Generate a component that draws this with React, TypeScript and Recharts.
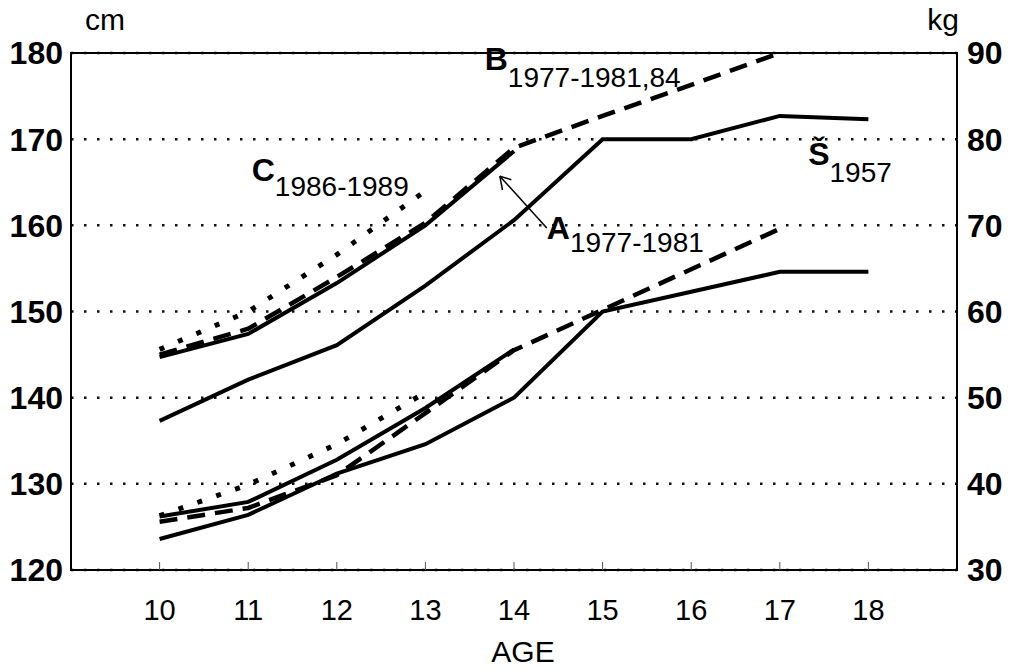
import {
  LineChart,
  Line,
  XAxis,
  YAxis,
  CartesianGrid,
  ReferenceArea,
  ReferenceLine,
  ReferenceDot,
} from "recharts";

const FONT = "'Liberation Sans', Arial, Helvetica, sans-serif";

// x axis: age in years
const ages = [10, 11, 12, 13, 14, 15, 16, 17, 18];
const ageTicks = [10, 11, 12, 13, 14, 15, 16, 17, 18];
const cmTicks = [120, 130, 140, 150, 160, 170, 180];
const kgTicks = [30, 40, 50, 60, 70, 80, 90];

// body height, cm (left axis)
const heightS1957 = [137.3, 142.1, 146.1, 153, 160.6, 170, 170, 172.7, 172.3];
const heightA = [144.7, 147.4, 153.3, 160, 168.6];
const heightB = [145, 148, 154, 160.3, 169, 172.7, 176.3, 180];
const heightC = [145.6, 150, 156.6, 164];

// body weight, kg (right axis)
const weightS1957 = [33.6, 36.4, 41.2, 44.6, 50, 60, 62.3, 64.6, 64.6];
const weightA = [36.2, 37.9, 42.8, 48.8, 55.6];
const weightB = [35.6, 37.2, 41, 48.2, 55.5, 60.2, 64.9, 69.6];
const weightC = [36.3, 39.9, 44.6, 50.6];

const data = ages.map((age, i) => ({
  age,
  hS: heightS1957[i] ?? null,
  hA: heightA[i] ?? null,
  hB: heightB[i] ?? null,
  hC: heightC[i] ?? null,
  wS: weightS1957[i] ?? null,
  wA: weightA[i] ?? null,
  wB: weightB[i] ?? null,
  wC: weightC[i] ?? null,
}));

// annotation anchors (age, cm)
const labels = [
  { main: "B", sub: "1977-1981,84", x: 13.67, y: 178.0, dy: 17 },
  { main: "C", sub: "1986-1989", x: 11.04, y: 165.1, dy: 15 },
  { main: "A", sub: "1977-1981", x: 14.37, y: 158.4, dy: 13 },
  { main: "Š", sub: "1957", x: 17.32, y: 167.0, dy: 17 },
];
const arrowTail = { x: 14.37, y: 159.7 };
const arrowTip = { x: 13.84, y: 165.7 };
const arrowWings = [
  { x: 13.87, y: 164.1 },
  { x: 13.97, y: 165.3 },
];

function SubLabel(props: any) {
  const vb = props.viewBox || {};
  const x = vb.x + (vb.width || 0) / 2;
  const y = vb.y + (vb.height || 0) / 2;
  return (
    <text x={x} y={y} fill="#000" fontFamily={FONT}>
      <tspan fontSize={32} fontWeight="bold">
        {props.main}
      </tspan>
      <tspan fontSize={28} dy={props.dy}>
        {props.sub}
      </tspan>
    </text>
  );
}

const tickStyle = { fill: "#000", fontSize: 29, fontFamily: FONT };
const sideTickStyle = { fill: "#000", fontSize: 32, fontFamily: FONT, fontWeight: "bold" };

export default function App() {
  return (
    <div style={{ position: "absolute", left: 0, top: 0, width: 1012, height: 669, background: "#fff" }}>
      <LineChart
        width={1012}
        height={669}
        data={data}
        margin={{ top: 53, right: 0, bottom: 0, left: 0 }}
      >
        <CartesianGrid
          yAxisId="cm"
          vertical={false}
          stroke="#111"
          strokeWidth={2.5}
          strokeDasharray="2.5 10.5"
        />
        <XAxis
          dataKey="age"
          type="number"
          domain={[9, 19]}
          ticks={ageTicks}
          height={99}
          axisLine={false}
          tickSize={-8}
          tickMargin={37}
          tickLine={{ stroke: "#555", strokeWidth: 1 }}
          tick={tickStyle}
          label={(p: any) => (
            <text
              x={p.viewBox.x + p.viewBox.width / 2 + 9}
              y={p.viewBox.y + 92}
              textAnchor="middle"
              fontSize={30}
              fontFamily={FONT}
              fill="#000"
            >
              AGE
            </text>
          )}
        />
        <YAxis
          yAxisId="cm"
          orientation="left"
          type="number"
          domain={[120, 180]}
          ticks={cmTicks}
          width={71}
          axisLine={false}
          tickLine={false}
          tickSize={0}
          tickMargin={8}
          tick={sideTickStyle}
          label={(p: any) => (
            <text
              x={105}
              y={p.viewBox.y - 23}
              textAnchor="middle"
              fontSize={30}
              fontFamily={FONT}
              fill="#000"
            >
              cm
            </text>
          )}
        />
        <YAxis
          yAxisId="kg"
          orientation="right"
          type="number"
          domain={[30, 90]}
          ticks={kgTicks}
          width={55}
          axisLine={false}
          tickLine={false}
          tickSize={0}
          tickMargin={10}
          tick={sideTickStyle}
          label={(p: any) => (
            <text
              x={943}
              y={p.viewBox.y - 23}
              textAnchor="middle"
              fontSize={30}
              fontFamily={FONT}
              fill="#000"
            >
              kg
            </text>
          )}
        />
        <ReferenceArea
          yAxisId="cm"
          x1={9}
          x2={19}
          y1={120}
          y2={180}
          fill="none"
          stroke="#000"
          strokeWidth={2}
        />

        {/* height */}
        <Line yAxisId="cm" dataKey="hS" stroke="#000" strokeWidth={4} dot={false} isAnimationActive={false} />
        <Line yAxisId="cm" dataKey="hA" stroke="#000" strokeWidth={4} dot={false} isAnimationActive={false} />
        <Line yAxisId="cm" dataKey="hB" stroke="#000" strokeWidth={4.5} strokeDasharray="18 10" dot={false} isAnimationActive={false} />
        <Line yAxisId="cm" dataKey="hC" stroke="#000" strokeWidth={5} strokeDasharray="5 15" dot={false} isAnimationActive={false} />

        {/* weight */}
        <Line yAxisId="kg" dataKey="wS" stroke="#000" strokeWidth={4} dot={false} isAnimationActive={false} />
        <Line yAxisId="kg" dataKey="wA" stroke="#000" strokeWidth={4} dot={false} isAnimationActive={false} />
        <Line yAxisId="kg" dataKey="wB" stroke="#000" strokeWidth={4.5} strokeDasharray="18 10" dot={false} isAnimationActive={false} />
        <Line yAxisId="kg" dataKey="wC" stroke="#000" strokeWidth={5} strokeDasharray="5 15" dot={false} isAnimationActive={false} />

        {/* arrow A -> line */}
        <ReferenceLine yAxisId="cm" segment={[arrowTail, arrowTip]} stroke="#000" strokeWidth={1.5} />
        {arrowWings.map((w, i) => (
          <ReferenceLine key={"w" + i} yAxisId="cm" segment={[arrowTip, w]} stroke="#000" strokeWidth={1.5} />
        ))}

        {labels.map((l) => (
          <ReferenceDot
            key={l.main}
            yAxisId="cm"
            x={l.x}
            y={l.y}
            r={1}
            fill="none"
            stroke="none"
            label={(p: any) => <SubLabel {...p} main={l.main} sub={l.sub} dy={l.dy} />}
          />
        ))}
      </LineChart>
    </div>
  );
}
